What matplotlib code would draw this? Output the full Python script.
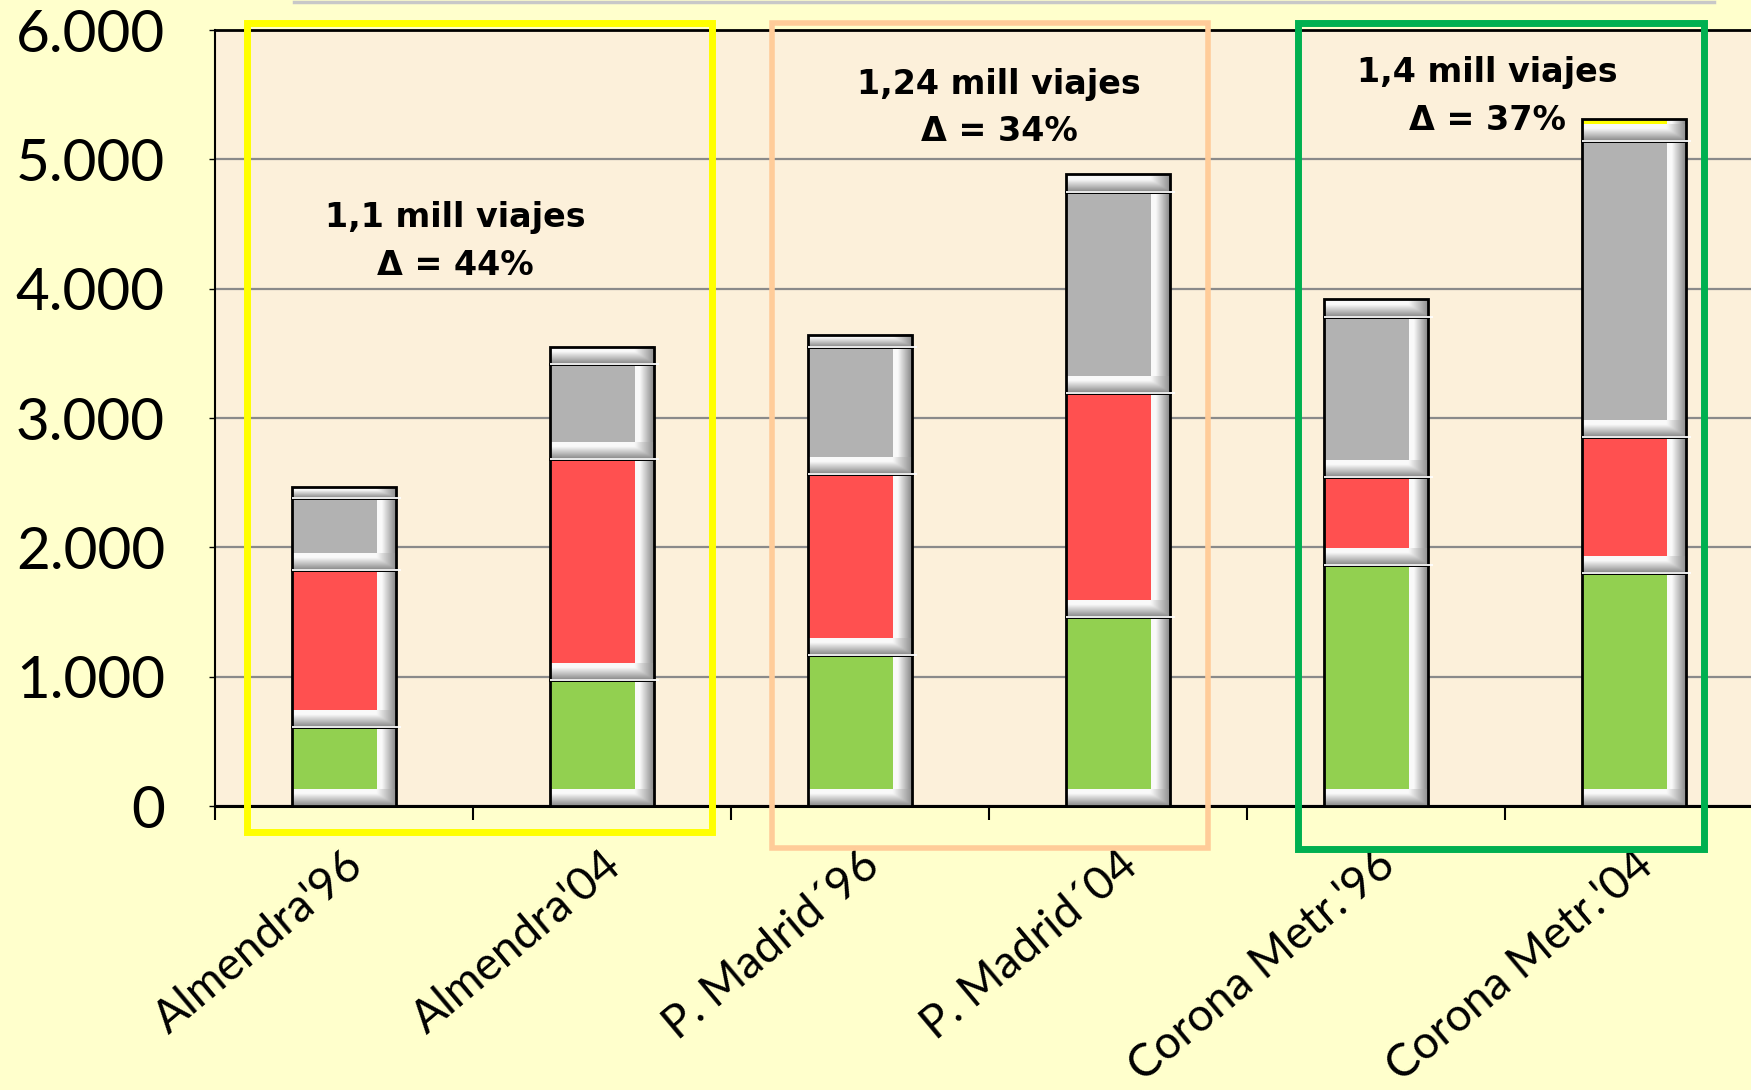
import numpy as np
import matplotlib.pyplot as plt
from matplotlib.patches import Rectangle
from matplotlib.lines import Line2D

categorias = ["Almendra'96", "Almendra'04", "P. Madrid´96", "P. Madrid´04",
              "Corona Metr.'96", "Corona Metr.'04"]
verde = [611, 978, 1168, 1459, 1864, 1802]
rojo = [1214, 1706, 1400, 1738, 680, 1052]
gris = [557, 734, 979, 1552, 1238, 2289]
amarillo = [85, 133, 96, 139, 138, 170]

y_ticks = [0, 1000, 2000, 3000, 4000, 5000, 6000]
y_labels = ['0', '1.000', '2.000', '3.000', '4.000', '5.000', '6.000']

textos = [("1,1 mill viajes", "Δ = 44%"),
          ("1,24 mill viajes", "Δ = 34%"),
          ("1,4 mill viajes", "Δ = 37%")]

colores = ['#92D050', '#FF5050', '#B2B2B2', '#FFFF00']

W, H = 1751, 1090
fig = plt.figure(figsize=(W / 100, H / 100), dpi=100, facecolor='#FFFFCC')
ax = fig.add_axes([215 / W, 1 - 806 / H, 1 - 215 / W, (806 - 30) / H])
ax.set_facecolor('#FCF0DA')

n = len(categorias)
x = np.arange(n)
ancho = 0.403
bisel_h = 125
bisel_w = 0.18 * ancho


def gradiente(k):
    t = np.linspace(0, 1, k)
    return np.where(t < 0.25, 0.98, 0.98 - (t - 0.25) / 0.75 * 0.45)

gh = gradiente(40)
img_right = np.repeat(gh[None, :, None], 3, axis=2)
gv = gradiente(40)
t = np.linspace(0, 1, 60)
hb = np.where(t > 0.82, 0.98 - (t - 0.82) / 0.18 * 0.4, 1.0)
img_bottom = np.minimum(gv[:, None], hb[None, :])
img_bottom = np.repeat(img_bottom[:, :, None], 3, axis=2)


def segmento(xc, base, alto, color):
    izq = xc - ancho / 2
    der = xc + ancho / 2
    ax.bar(xc, alto, ancho, bottom=base, color=color, edgecolor='none', zorder=3)
    ax.imshow(img_right, extent=(der - bisel_w, der, base, base + alto),
              aspect='auto', zorder=4, interpolation='bilinear')
    bh = min(bisel_h, alto)
    ax.imshow(img_bottom, extent=(izq, der, base, base + bh),
              aspect='auto', zorder=4, interpolation='bilinear')
    ax.bar(xc, alto, ancho, bottom=base, fill=False, edgecolor='black',
           linewidth=2, zorder=5)


series = [verde, rojo, gris, amarillo]
for i in range(n):
    base = 0
    for s, serie in enumerate(series):
        segmento(x[i], base, serie[i], colores[s])
        base += serie[i]
        if s < len(series) - 1:
            ax.hlines(base, x[i] - ancho / 2, x[i] + ancho / 2 + 0.02,
                      color='white', linewidth=1.3, zorder=6)

ax.set_xlim(-0.5, -0.5 + (W - 215) / 258)
ax.set_ylim(0, 6000)

ax.set_axisbelow(True)
ax.yaxis.grid(True, color='#8A8A8A', linewidth=1.6, zorder=0)
ax.set_yticks(y_ticks)
ax.set_yticklabels(y_labels, fontsize=42, family='Lato', color='black')
ax.tick_params(axis='y', direction='out', length=4, width=1, pad=32)

ax.set_xticks(np.arange(n) - 0.5)
ax.set_xticklabels([])
ax.tick_params(axis='x', which='major', direction='out', length=10, width=1.5)
ax.set_xticks(x, minor=True)
ax.set_xticklabels(categorias, minor=True, rotation=40, ha='right', va='top',
                   rotation_mode='anchor', fontsize=33, family='Lato')
ax.tick_params(axis='x', which='minor', length=0, pad=27)

for lado in ['left', 'top', 'bottom']:
    ax.spines[lado].set_color('black')
ax.spines['left'].set_linewidth(1.5)
ax.spines['top'].set_linewidth(2)
ax.spines['bottom'].set_linewidth(2.2)
ax.spines['right'].set_visible(False)

# cajas de grupo
cajas = [(-0.376, 1.426, -201, '#FFFF00', 5),
         (1.659, 3.349, -325, '#FFCC99', 4),
         (3.698, 5.271, -333, '#00B050', 5)]
for x0, x1, y0, c, lw in cajas:
    ax.add_patch(Rectangle((x0, y0), x1 - x0, 6054 - y0, fill=False, edgecolor=c,
                           linewidth=lw, clip_on=False, zorder=7))

pos_textos = [(0.43, 4548, 4176), (2.539, 5576, 5213), (4.43, 5669, 5298)]
for (t1, t2), (tx, ty1, ty2) in zip(textos, pos_textos):
    ax.text(tx, ty1, t1, ha='center', va='center', fontsize=24, fontweight='bold', zorder=8)
    ax.text(tx, ty2, t2, ha='center', va='center', fontsize=24, fontweight='bold', zorder=8)

fig.add_artist(Line2D([294 / W, 1714 / W], [1 - 1.5 / H, 1 - 1.5 / H],
                      color='#C8C8C8', linewidth=2.5))

fig.savefig('out.png', dpi=100, facecolor=fig.get_facecolor())
